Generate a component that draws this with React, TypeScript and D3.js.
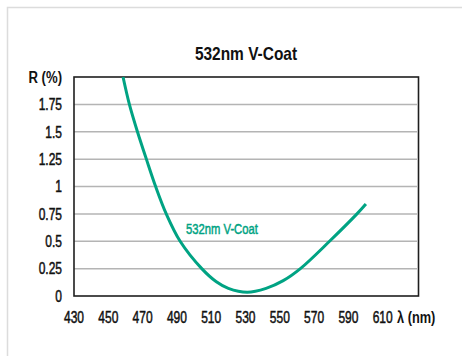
import React, { useEffect, useRef } from 'react';
import * as d3 from 'd3';

// wavelength (nm) and reflectance (%)
const wavelengths = [458.6, 462.3, 467, 472.2, 477.6, 483.8, 491.9, 504.5, 513, 520, 531, 542, 552, 562, 579, 595, 600.2];
const reflectance = [2.0, 1.75, 1.5, 1.25, 1.0, 0.75, 0.5, 0.25, 0.13, 0.07, 0.035, 0.07, 0.14, 0.25, 0.5, 0.75, 0.84];

const xTicks = [430, 450, 470, 490, 510, 530, 550, 570, 590, 610];
const yTicks = [0, 0.25, 0.5, 0.75, 1, 1.25, 1.5, 1.75];

const chartTitle = '532nm V-Coat';
const seriesName = '532nm V-Coat';
const xAxisName = 'λ (nm)';
const yAxisName = 'R (%)';

const FONT = '"Liberation Sans", Arial, sans-serif';
const TEAL = '#00a383';

const App = () => {
  const svgRef = useRef<SVGSVGElement | null>(null);
  const width = 462;
  const height = 356;
  const margin = { top: 77, right: 45, bottom: 60, left: 74 };

  useEffect(() => {
    if (!svgRef.current) return;
    const svg = d3.select(svgRef.current);
    svg.selectAll('*').remove();

    const x = d3
      .scaleLinear()
      .domain([430, 630])
      .range([margin.left, width - margin.right]);
    const y = d3
      .scaleLinear()
      .domain([0, 2])
      .range([height - margin.bottom, margin.top]);

    // narrow text: no condensed font installed, so squeeze horizontally
    const label = (
      g: any,
      px: number,
      py: number,
      txt: string,
      opts: { size: number; sx: number; anchor?: string; bold?: boolean; fill?: string; dy?: string }
    ) => {
      const t = g
        .append('text')
        .attr('transform', `translate(${px},${py}) scale(${opts.sx},1)`)
        .attr('text-anchor', opts.anchor || 'start')
        .attr('font-family', FONT)
        .attr('font-size', opts.size)
        .attr('font-weight', opts.bold ? 'bold' : 'normal')
        .attr('fill', opts.fill || '#111')
        .text(txt);
      if (opts.dy) t.attr('dy', opts.dy);
      if (!opts.bold) t.attr('stroke', opts.fill || '#111').attr('stroke-width', 0.5);
      return t;
    };

    // outer light frame
    svg
      .append('rect')
      .attr('x', 7.5)
      .attr('y', 7.5)
      .attr('width', 470)
      .attr('height', 370)
      .attr('fill', 'none')
      .attr('stroke', '#dcdcdc')
      .attr('stroke-width', 1.5);

    // gridlines
    svg
      .append('g')
      .selectAll('line')
      .data(yTicks.filter((t) => t > 0))
      .join('line')
      .attr('x1', x(430))
      .attr('x2', x(630))
      .attr('y1', (d) => y(d))
      .attr('y2', (d) => y(d))
      .attr('stroke', '#b4b4b4')
      .attr('stroke-width', 1.5);

    // plot frame
    svg
      .append('rect')
      .attr('x', x(430))
      .attr('y', y(2))
      .attr('width', x(630) - x(430) + 1.5)
      .attr('height', y(0) - y(2))
      .attr('fill', 'none')
      .attr('stroke', '#1e1e1e')
      .attr('stroke-width', 1.6);

    // y tick labels
    const yg = svg.append('g');
    yTicks.forEach((d) => {
      label(yg, x(430) - 12, y(d), String(d), { size: 16, sx: 0.75, anchor: 'end', dy: '0.36em' });
    });
    label(yg, x(430) - 12, y(2), yAxisName, { size: 16, sx: 0.82, anchor: 'end', bold: true, dy: '0.36em' });

    // x tick labels
    const xg = svg.append('g');
    xTicks.forEach((d) => {
      label(xg, x(d), y(0) + 27, String(d), { size: 16, sx: 0.75, anchor: 'middle' });
    });
    label(xg, 397, y(0) + 27, xAxisName, { size: 16, sx: 0.8, bold: true });

    // title
    label(svg, 246, 60, chartTitle, { size: 18, sx: 0.86, anchor: 'middle', bold: true });

    // curve
    const pts: [number, number][] = wavelengths.map((w, i) => [w, reflectance[i]]);
    const line = d3
      .line<[number, number]>()
      .x((d) => x(d[0]))
      .y((d) => y(d[1]))
      .curve(d3.curveCatmullRom.alpha(0.5));

    svg
      .append('path')
      .datum(pts)
      .attr('d', line)
      .attr('fill', 'none')
      .attr('stroke', TEAL)
      .attr('stroke-width', 3);

    // series label
    label(svg, 186, 229, seriesName, { size: 15, sx: 0.75, fill: TEAL, dy: '0.36em' });
  }, []);

  return (
    <div style={{ position: 'absolute', left: 0, top: 0, width, height, background: '#fff' }}>
      <svg ref={svgRef} width={width} height={height}></svg>
    </div>
  );
};

export default App;
